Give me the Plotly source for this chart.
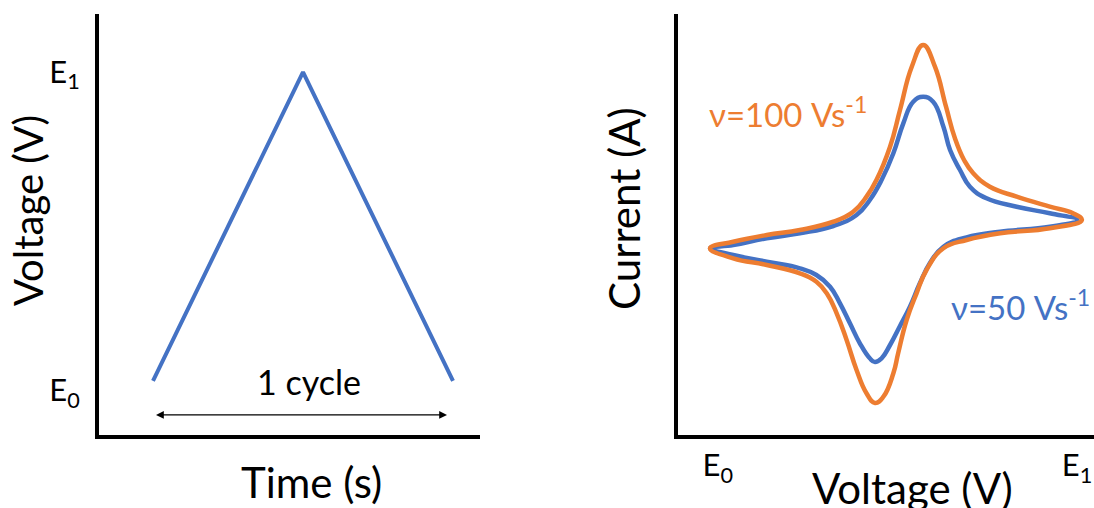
import plotly.graph_objects as go

# ---------------- data ----------------
# Left panel: triangular potential sweep (one cycle)
sweep_time = [0.0, 1.0, 2.0]
sweep_voltage = [0.0, 1.0, 0.0]
left_tick_vals = [-0.03, 1.0]
left_tick_text = ["E<sub>0</sub>", "E<sub>1</sub>"]

# Right panel: cyclic voltammograms (voltage 0 = E0, 1 = E1; current arbitrary units)
cv100_voltage = [-0.005, 0.058, 0.149, 0.239, 0.330, 0.384, 0.420, 0.447, 0.484, 0.511, 0.543,
                 0.574, 0.606, 0.636, 0.660, 0.685, 0.710, 0.755, 0.828, 0.918, 0.981, 1.005,
                 0.918, 0.783, 0.692, 0.629, 0.583, 0.556, 0.529, 0.506, 0.493, 0.466, 0.443,
                 0.420, 0.393, 0.366, 0.339, 0.312, 0.284, 0.239, 0.149, 0.058, -0.005]
cv100_current = [-0.083, -0.017, 0.050, 0.100, 0.183, 0.283, 0.433, 0.600, 0.933, 1.300, 1.733,
                 1.950, 1.733, 1.333, 1.020, 0.800, 0.667, 0.533, 0.433, 0.333, 0.267, 0.200,
                 0.117, 0.067, 0.000, -0.083, -0.300, -0.533, -0.800, -1.133, -1.333, -1.567, -1.630,
                 -1.533, -1.300, -1.000, -0.733, -0.533, -0.417, -0.333, -0.250, -0.183, -0.083]

cv50_voltage = [-0.005, 0.058, 0.149, 0.239, 0.330, 0.393, 0.429, 0.461, 0.493, 0.520, 0.547,
                0.574, 0.601, 0.629, 0.647, 0.674, 0.701, 0.746, 0.828, 0.918, 0.993,
                0.918, 0.783, 0.692, 0.629, 0.592, 0.565, 0.538, 0.511, 0.484, 0.461, 0.443,
                0.429, 0.402, 0.375, 0.348, 0.321, 0.284, 0.239, 0.149, 0.058, -0.005]
cv50_current = [-0.083, -0.050, 0.017, 0.067, 0.140, 0.250, 0.400, 0.600, 0.867, 1.167, 1.383,
                1.433, 1.383, 1.133, 0.900, 0.700, 0.533, 0.417, 0.333, 0.267, 0.200,
                0.133, 0.083, 0.027, -0.067, -0.233, -0.433, -0.667, -0.860, -1.050, -1.183, -1.220,
                -1.183, -1.033, -0.833, -0.633, -0.467, -0.350, -0.283, -0.217, -0.150, -0.083]
right_tick_vals = [0.016, 0.992]
right_tick_text = ["E<sub>0</sub>", "E<sub>1</sub>"]

BLUE = "#4472C4"
ORANGE = "#ED7D31"
FONT = "Lato"

fig = go.Figure()

fig.add_trace(go.Scatter(x=sweep_time, y=sweep_voltage, mode="lines",
                         line=dict(color=BLUE, width=4), xaxis="x", yaxis="y",
                         showlegend=False, hoverinfo="skip"))
fig.add_trace(go.Scatter(x=cv50_voltage, y=cv50_current, mode="lines",
                         line=dict(color=BLUE, width=4.5, shape="spline", smoothing=1.3),
                         xaxis="x2", yaxis="y2", showlegend=False, name="ν=50 Vs-1"))
fig.add_trace(go.Scatter(x=cv100_voltage, y=cv100_current, mode="lines",
                         line=dict(color=ORANGE, width=4.5, shape="spline", smoothing=1.3),
                         xaxis="x2", yaxis="y2", showlegend=False, name="ν=100 Vs-1"))

W, H = 1094, 508
def px(x):
    return x / W
def py(y):
    return 1 - y / H

axis_common = dict(showgrid=False, zeroline=False, showline=True, linecolor="black",
                   linewidth=4, ticks="", fixedrange=True, automargin=False)

fig.update_layout(
    width=W, height=H,
    margin=dict(l=0, r=0, t=0, b=0, autoexpand=False),
    paper_bgcolor="white", plot_bgcolor="white",
    font=dict(family=FONT, color="black"),
    xaxis=dict(domain=[px(99), px(480)], range=[-0.36, 2.18], showticklabels=False,
               anchor="y", **axis_common),
    yaxis=dict(domain=[py(435), py(14)], range=[-0.175, 1.188], anchor="x",
               tickvals=left_tick_vals, ticktext=left_tick_text,
               tickfont=dict(size=31, family=FONT), ticklabelstandoff=9, **axis_common),
    xaxis2=dict(domain=[px(678), 1.0], range=[-0.092, 1.038], anchor="y2",
                tickvals=right_tick_vals, ticktext=right_tick_text,
                tickfont=dict(size=31, family=FONT), ticklabelstandoff=0, **axis_common),
    yaxis2=dict(domain=[py(435), py(14)], range=[-1.95, 2.26], anchor="x2",
                showticklabels=False, **axis_common),
)

ann = []
# axis titles
ann.append(dict(text="Voltage (V)", xref="paper", yref="paper", x=px(28), y=py(211),
                textangle=-90, showarrow=False, font=dict(size=40, family=FONT),
                xanchor="center", yanchor="middle"))
ann.append(dict(text="Time (s)", xref="paper", yref="paper", x=px(312), y=py(482),
                showarrow=False, font=dict(size=42, family=FONT),
                xanchor="center", yanchor="middle"))
ann.append(dict(text="Current (A)", xref="paper", yref="paper", x=px(624), y=py(208),
                textangle=-90, showarrow=False, font=dict(size=42, family=FONT),
                xanchor="center", yanchor="middle"))
ann.append(dict(text="Voltage (V)", xref="paper", yref="paper", x=px(912), y=py(488),
                showarrow=False, font=dict(size=42, family=FONT),
                xanchor="center", yanchor="middle"))
# cycle arrow + label
ann.append(dict(text="", xref="x", yref="y", x=1.96, y=-0.11, ax=0.01, ay=-0.11,
                axref="x", ayref="y", showarrow=True, arrowside="end+start",
                arrowhead=2, startarrowhead=2, arrowwidth=1.3, arrowsize=1.2,
                startarrowsize=1.2, arrowcolor="black"))
ann.append(dict(text="1 cycle", xref="paper", yref="paper", x=px(309), y=py(381),
                showarrow=False, font=dict(size=34, family=FONT),
                xanchor="center", yanchor="middle"))
# scan-rate labels
ann.append(dict(text="ν=100 Vs<sup>-1</sup>", xref="paper", yref="paper", x=px(707), y=py(112),
                showarrow=False, font=dict(size=33, family=FONT, color=ORANGE),
                xanchor="left", yanchor="middle"))
ann.append(dict(text="ν=50 Vs<sup>-1</sup>", xref="paper", yref="paper", x=px(949), y=py(305),
                showarrow=False, font=dict(size=33, family=FONT, color=BLUE),
                xanchor="left", yanchor="middle"))
fig.update_layout(annotations=ann)

fig.write_html("out.html", config={"displayModeBar": False},
               post_script="document.body.style.margin='0';document.body.style.overflow='hidden';")
